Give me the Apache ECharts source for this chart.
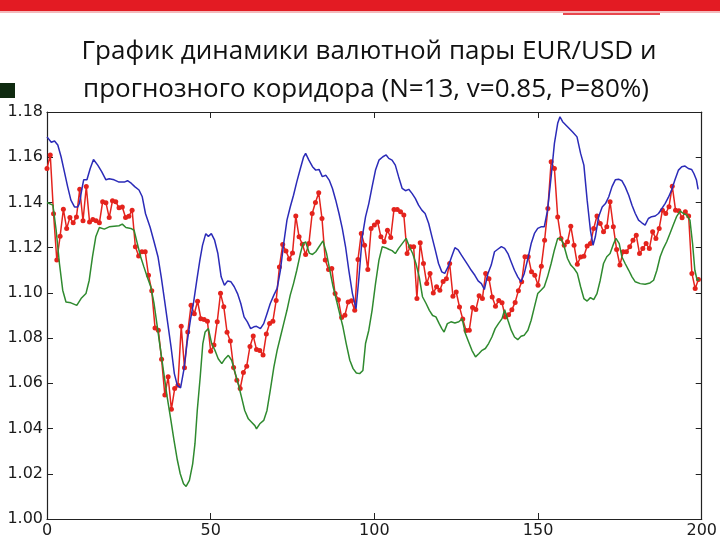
<!DOCTYPE html>
<html><head><meta charset="utf-8">
<script src="https://cdn.jsdelivr.net/npm/echarts@6/dist/echarts.min.js"></script>
<style>html,body{margin:0;padding:0;background:#fff}#c{width:720px;height:540px}</style>
</head><body><div id="c"></div>
<script>
const titleLines = ['График динамики валютной пары EUR/USD и', 'прогнозного коридора (N=13, v=0.85, P=80%)'];
const xTicks = [0, 50, 100, 150, 200];
const yTicks = [1.00, 1.02, 1.04, 1.06, 1.08, 1.10, 1.12, 1.14, 1.16, 1.18];

// actual rate (red, one point per step, x = index)
const actual = [1.155,1.161,1.135,1.1145,1.125,1.137,1.1285,1.1333,1.131,1.1336,
1.1458,1.1319,1.147,1.1314,1.1325,1.1319,1.131,1.1403,1.1399,1.1333,
1.1407,1.1403,1.1376,1.138,1.1333,1.1339,1.1366,1.1204,1.1163,1.1182,
1.1182,1.1078,1.101,1.0845,1.0835,1.0707,1.0548,1.0629,1.0485,1.0577,
1.0592,1.0852,1.0669,1.0827,1.0945,1.0908,1.0963,1.0886,1.0882,1.0875,
1.0742,1.0769,1.0872,1.0998,1.0939,1.0826,1.0787,1.067,1.0614,1.0577,
1.0648,1.0676,1.0763,1.0809,1.075,1.0745,1.0725,1.0818,1.0865,1.0875,
1.0966,1.1115,1.1214,1.1185,1.115,1.1176,1.134,1.1248,1.1215,1.117,
1.1218,1.1351,1.14,1.1443,1.1329,1.1145,1.1103,1.1108,1.0997,1.097,
1.0891,1.0901,1.096,1.0965,1.0923,1.1148,1.1263,1.1211,1.1103,1.1285,
1.13,1.1314,1.1248,1.1226,1.1277,1.1245,1.1369,1.1369,1.1359,1.1344,
1.1174,1.1204,1.1204,1.0975,1.1222,1.113,1.1041,1.1086,1.1,1.1027,
1.1012,1.105,1.1063,1.113,1.0985,1.1004,1.0938,1.0884,1.0834,1.0835,
1.0935,1.0926,1.0987,1.0975,1.1086,1.1063,1.0982,1.0941,1.0966,1.0956,
1.0893,1.0903,1.0925,1.0958,1.101,1.1049,1.116,1.116,1.1093,1.1078,
1.1034,1.1118,1.1233,1.1373,1.158,1.155,1.1336,1.1241,1.1211,1.1226,
1.1295,1.1211,1.1127,1.1159,1.1162,1.1207,1.1218,1.1285,1.134,1.1307,
1.127,1.1292,1.1403,1.1292,1.1192,1.1123,1.1182,1.1182,1.1204,1.1233,
1.1255,1.1174,1.1196,1.1218,1.1196,1.127,1.1241,1.1285,1.1366,1.1351,
1.1381,1.1472,1.1366,1.1363,1.1332,1.1359,1.134,1.1086,1.1019,1.1059];

// upper corridor bound (blue) [x, value]
const upper = [[0,1.169],[0.5,1.1683],[1.3,1.1666],[2.3,1.1672],[3.3,1.1654],[4.3,1.1602],[5.3,1.1536],[6.3,1.147],[7.3,1.141],[8.4,1.138],[9.4,1.138],[9.9,1.1396],[10.6,1.1455],[11.2,1.150],[12.2,1.150],[13.2,1.155],[14.2,1.159],[15.5,1.1565],[16.7,1.1536],[18,1.150],[19,1.1505],[20.5,1.150],[22,1.149],[23.6,1.149],[24.6,1.1496],[25.8,1.1484],[26.8,1.147],[28.1,1.1455],[29.1,1.1425],[30.1,1.135],[31.5,1.129],[32.7,1.1226],[33.9,1.116],[34.9,1.107],[35.9,1.0968],[36.9,1.0864],[37.9,1.076],[38.9,1.0643],[39.8,1.0591],[40.8,1.058],[41.8,1.066],[42.8,1.078],[43.8,1.088],[44.8,1.096],[45.8,1.106],[46.7,1.1145],[47.5,1.121],[48.5,1.1262],[49.3,1.125],[50.2,1.1262],[51.2,1.1233],[52.2,1.1174],[53.2,1.1071],[54.2,1.1034],[55.2,1.1053],[56.2,1.1049],[57.2,1.1027],[58.2,1.0997],[59.2,1.0953],[60.2,1.0894],[61.2,1.0872],[62.2,1.0842],[63.2,1.085],[64,1.0852],[65.2,1.0842],[66.2,1.0864],[67.2,1.0908],[68.2,1.0953],[69.3,1.099],[70.3,1.102],[71.3,1.110],[72.3,1.1218],[73.3,1.1322],[74.3,1.138],[75.3,1.1432],[76.3,1.1491],[77.4,1.155],[78.4,1.1602],[79,1.1617],[80,1.1587],[81.1,1.1558],[82.1,1.1543],[83.1,1.1546],[84.1,1.1514],[85.2,1.152],[86.2,1.1499],[87.2,1.1462],[88.2,1.141],[89.2,1.1351],[90.2,1.1285],[91.2,1.1204],[92.2,1.11],[93.3,1.0997],[94.4,1.093],[95.3,1.107],[96.3,1.1248],[97.3,1.1336],[98.3,1.1395],[99.3,1.1469],[100.35,1.1543],[101.4,1.1587],[102.6,1.1602],[103.6,1.161],[104.4,1.1595],[105.4,1.1587],[106.4,1.1565],[107.4,1.1514],[108.5,1.1462],[109.5,1.1452],[110.5,1.1458],[111.5,1.144],[112.5,1.1418],[113.5,1.1388],[114.5,1.1366],[115.5,1.1351],[116.6,1.1307],[117.6,1.1248],[118.6,1.119],[119.6,1.113],[120.6,1.1093],[121.5,1.1086],[122.5,1.1115],[123.6,1.116],[124.6,1.12],[125.6,1.119],[126.6,1.1167],[127.6,1.1145],[128.6,1.1123],[129.6,1.11],[130.7,1.1078],[131.7,1.1053],[132.7,1.1041],[133.6,1.1015],[134.7,1.1086],[135.7,1.1123],[136.7,1.1182],[137.7,1.1193],[138.8,1.1205],[139.8,1.1197],[140.8,1.1174],[141.8,1.1137],[142.8,1.11],[143.8,1.1071],[144.8,1.1049],[145.8,1.1086],[146.9,1.1152],[147.9,1.1218],[148.9,1.1263],[149.9,1.1285],[150.9,1.1292],[151.9,1.1292],[152.9,1.1366],[154,1.1514],[155,1.1661],[156,1.175],[156.7,1.1779],[157.5,1.1757],[159,1.1735],[160.5,1.1713],[161.9,1.169],[163,1.1617],[164,1.1565],[165,1.141],[166,1.1277],[166.8,1.1211],[167.5,1.1248],[168.5,1.1337],[169.6,1.138],[170.6,1.1395],[171.6,1.1425],[172.6,1.147],[173.6,1.150],[174.6,1.1503],[175.6,1.1496],[176.6,1.147],[177.7,1.1432],[178.7,1.1388],[179.7,1.1351],[180.7,1.1322],[181.7,1.131],[182.7,1.13],[183.7,1.1329],[184.7,1.1337],[185.8,1.134],[186.8,1.1351],[187.8,1.1373],[188.8,1.1395],[189.8,1.1422],[190.8,1.1455],[191.8,1.1499],[192.9,1.1543],[193.9,1.1558],[194.9,1.1561],[195.9,1.155],[196.9,1.1546],[197.6,1.1528],[198.4,1.1499],[198.9,1.1458]];

// lower corridor bound (green) [x, value]
const lower = [[0,1.140],[0.5,1.140],[1.8,1.1388],[2.8,1.1277],[3.8,1.113],[4.8,1.1012],[5.8,1.096],[7.3,1.0956],[9.1,1.0945],[10.4,1.0975],[11.9,1.0997],[12.9,1.1056],[13.9,1.116],[14.9,1.1248],[16,1.1289],[17.5,1.1282],[19,1.1292],[20.5,1.1295],[22,1.1297],[23,1.1304],[24.1,1.1289],[25.6,1.1285],[26.6,1.1277],[27.6,1.1218],[28.6,1.116],[29.6,1.1115],[30.6,1.1071],[31.7,1.1027],[32.7,1.0953],[33.7,1.085],[34.7,1.0746],[35.7,1.0643],[36.7,1.054],[37.7,1.0451],[38.8,1.0348],[39.8,1.0262],[40.7,1.02],[41.7,1.0156],[42.5,1.0144],[43.5,1.0171],[44.5,1.0244],[45.2,1.0333],[45.9,1.048],[46.8,1.0628],[47.6,1.0776],[48.3,1.0827],[49.3,1.0842],[50.3,1.0776],[51.3,1.0746],[52.3,1.0709],[53.4,1.0687],[54.4,1.0709],[55.4,1.0724],[56.4,1.0702],[57.4,1.065],[58.4,1.0598],[59.4,1.054],[60.4,1.048],[61.5,1.0443],[62.5,1.0428],[63.5,1.0413],[64,1.0399],[65,1.0421],[66.2,1.0436],[67.2,1.048],[68.2,1.0569],[69.3,1.0672],[70.3,1.0746],[71.3,1.0805],[72.3,1.0864],[73.3,1.0923],[74.3,1.099],[75.3,1.1041],[76.3,1.11],[77.4,1.1174],[78.2,1.1218],[79,1.1226],[80.1,1.1176],[81.1,1.117],[82.1,1.1182],[83.1,1.1204],[84.3,1.123],[85.4,1.1174],[86.4,1.11],[87.4,1.1027],[88.4,1.0968],[89.4,1.0908],[90.4,1.085],[91.4,1.0776],[92.5,1.0702],[93.5,1.0665],[94.5,1.0646],[95.5,1.0643],[96.5,1.0657],[97.3,1.0776],[98.3,1.0835],[99.3,1.0923],[100.35,1.1041],[101.4,1.1145],[102.4,1.1204],[103.4,1.12],[104.4,1.1193],[105.4,1.1187],[106.4,1.1174],[107.4,1.1197],[108.5,1.1218],[109.7,1.1241],[110.7,1.1204],[111.7,1.1174],[112.7,1.113],[113.7,1.1071],[114.7,1.0983],[115.8,1.0953],[116.8,1.0923],[117.8,1.09],[118.8,1.0894],[119.8,1.0864],[120.6,1.0842],[121.3,1.0827],[122.3,1.0864],[123.4,1.0872],[124.6,1.0867],[125.8,1.0872],[126.8,1.0886],[127.8,1.082],[128.8,1.0783],[129.8,1.0746],[130.9,1.0717],[131.9,1.0731],[132.9,1.0746],[133.9,1.0754],[134.9,1.0776],[135.9,1.0805],[136.9,1.0842],[137.9,1.0864],[139,1.0886],[139.8,1.0926],[140.8,1.0879],[141.8,1.0835],[142.8,1.0805],[143.8,1.0793],[144.8,1.0808],[145.8,1.0813],[146.9,1.0835],[147.9,1.0879],[148.9,1.0938],[149.9,1.0997],[150.9,1.1012],[151.9,1.1027],[152.9,1.1071],[154,1.113],[155,1.119],[156,1.1241],[157,1.1241],[158,1.1204],[159,1.1152],[160,1.1123],[161,1.1108],[162,1.1086],[163,1.1027],[164,1.0975],[165,1.0964],[166,1.0979],[167,1.097],[168,1.0997],[169,1.1056],[170,1.113],[171,1.116],[172,1.1174],[173.1,1.1218],[173.8,1.1241],[174.8,1.1218],[175.6,1.116],[176.6,1.113],[177.7,1.11],[178.7,1.1071],[179.7,1.1049],[181.2,1.1041],[182.7,1.1038],[184.2,1.1044],[185.3,1.1056],[186.3,1.11],[187.3,1.116],[188.3,1.1197],[189.3,1.1226],[190.3,1.1263],[191.3,1.13],[192.3,1.1337],[193.4,1.1362],[194.4,1.1351],[195.4,1.1344],[196.4,1.1322],[197.2,1.1218],[197.9,1.11],[198.6,1.1056],[199.2,1.1059]];

const chart = echarts.init(document.getElementById('c'), null, {renderer: 'canvas'});
const axisFont = {fontFamily: 'DejaVu Sans', fontSize: 16, color: '#1a1a1a'};
const xBase = {type: 'value', min: xTicks[0], max: xTicks[xTicks.length - 1], interval: 50,
  splitLine: {show: false}, axisLine: {show: true, onZero: false, lineStyle: {color: '#222', width: 1.2}},
  axisTick: {show: true, inside: true, length: 6, lineStyle: {color: '#222'}}};
const yBase = {type: 'value', min: yTicks[0], max: yTicks[yTicks.length - 1], interval: 0.02,
  splitLine: {show: false}, axisLine: {show: true, onZero: false, lineStyle: {color: '#222', width: 1.2}},
  axisTick: {show: true, inside: true, length: 6, lineStyle: {color: '#222'}}};

chart.setOption({
  animation: false,
  backgroundColor: '#fff',
  grid: {left: 47, right: 16, top: 112, bottom: 21, containLabel: false},
  xAxis: [
    Object.assign({}, xBase, {position: 'bottom', axisLabel: Object.assign({margin: 4}, axisFont)}),
    Object.assign({}, xBase, {position: 'top', axisLabel: {show: false}})
  ],
  yAxis: [
    Object.assign({}, yBase, {position: 'left', axisLabel: Object.assign({margin: 4, formatter: v => v.toFixed(2)}, axisFont)}),
    Object.assign({}, yBase, {position: 'right', axisLabel: {show: false}})
  ],
  graphic: [
    {type: 'rect', shape: {x: 0, y: 0, width: 720, height: 11}, style: {fill: '#e31b23'}},
    {type: 'rect', shape: {x: 0, y: 11, width: 720, height: 2}, style: {fill: '#f3b9bb'}},
    {type: 'rect', shape: {x: 563, y: 13, width: 97, height: 2}, style: {fill: '#e8474d'}},
    {type: 'rect', shape: {x: 0, y: 83, width: 15, height: 15}, style: {fill: '#0f2a10'}},
    {type: 'text', x: 369, y: 52, style: {text: titleLines[0], font: '26px "Open Sans"', fill: '#111', align: 'center', verticalAlign: 'middle'}},
    {type: 'text', x: 366, y: 90, style: {text: titleLines[1], font: '26px "Open Sans"', fill: '#111', align: 'center', verticalAlign: 'middle'}}
  ],
  series: [
    {type: 'line', name: 'actual', data: actual.map((v, i) => [i, v]), xAxisIndex: 0, yAxisIndex: 0,
      symbol: 'circle', symbolSize: 5, showSymbol: true,
      lineStyle: {color: '#e4231d', width: 1.5}, itemStyle: {color: '#e4231d'}, z: 2},
    {type: 'line', name: 'upper', data: upper, symbol: 'none', smooth: false,
      lineStyle: {color: '#2b2bb8', width: 1.5}, z: 3},
    {type: 'line', name: 'lower', data: lower, symbol: 'none', smooth: false,
      lineStyle: {color: '#2f8a2f', width: 1.5}, z: 3}
  ]
});
</script></body></html>
